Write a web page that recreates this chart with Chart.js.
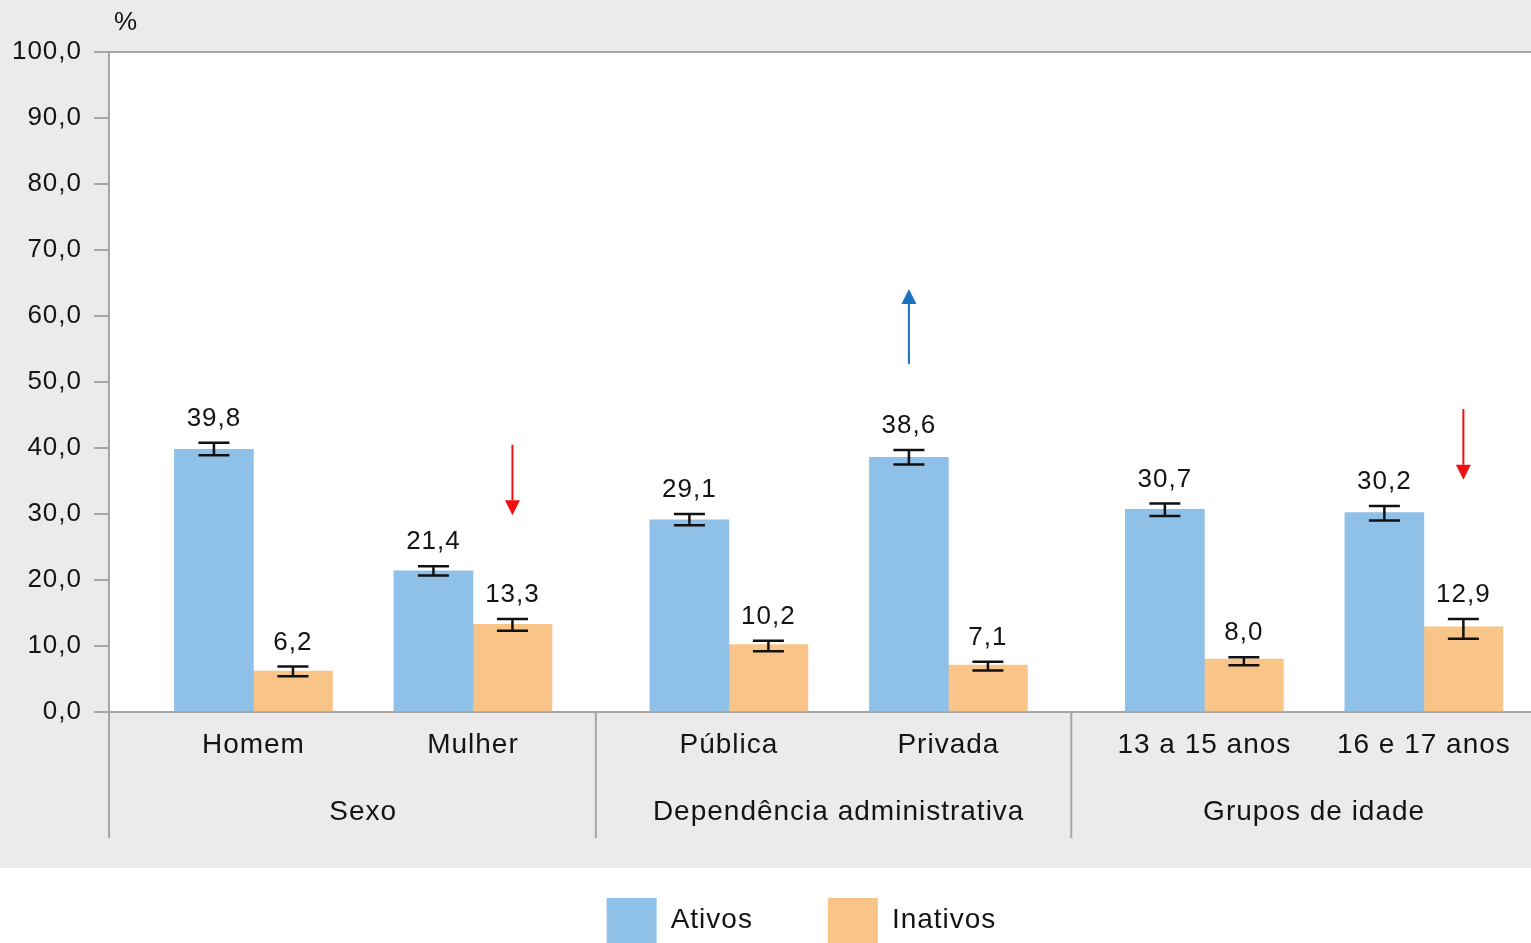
<!DOCTYPE html>
<html>
<head>
<meta charset="utf-8">
<script src="https://cdn.jsdelivr.net/npm/chart.js@4.4.1/dist/chart.umd.min.js"></script>
<style>
html,body{margin:0;padding:0;background:#ffffff;}
#wrap{width:1531px;height:943px;position:relative;}
</style>
</head>
<body>
<div id="wrap"><canvas id="c"></canvas></div>
<script>
// ---------- data ----------
const categories = ['Homem', 'Mulher', 'Pública', 'Privada', '13 a 15 anos', '16 e 17 anos'];
const categoryGroup = [0, 0, 1, 1, 2, 2];
const groups = ['Sexo', 'Dependência administrativa', 'Grupos de idade'];
const seriesNames = ['Ativos', 'Inativos'];
const ativos = [39.8, 21.4, 29.1, 38.6, 30.7, 30.2];
const inativos = [6.2, 13.3, 10.2, 7.1, 8.0, 12.9];
const ativosLow = [38.9, 20.7, 28.3, 37.5, 29.7, 29.0];
const ativosHigh = [40.8, 22.1, 30.0, 39.7, 31.6, 31.2];
const inativosLow = [5.4, 12.3, 9.2, 6.3, 7.1, 11.1];
const inativosHigh = [6.9, 14.1, 10.8, 7.6, 8.3, 14.1];
const yTickValues = [0, 10, 20, 30, 40, 50, 60, 70, 80, 90, 100];
const unitLabel = '%';
// significance arrows: category index, series index, from value, to value
const arrowCategory = [1, 3, 5];
const arrowSeries = [1, 0, 1];
const arrowFrom = [40.5, 52.7, 45.9];
const arrowTo = [29.8, 64.1, 35.2];

// ---------- style / layout ----------
const FONT = "'Liberation Sans', Arial, sans-serif";
const TEXT = '#141414';
const AXIS = '#a6a6a6';
const BLUE = '#8fc0e7';
const ORANGE = '#f9c487';
const GROUP_GAP = 0.166;
const X_MIN = -0.658, X_MAX = 5.82;
const SPACING = '1px';
const NUM_SIZE = 26, WORD_SIZE = 28;

const positions = categories.map((c, i) => i + categoryGroup[i] * GROUP_GAP);
const fmt = v => v.toFixed(1).replace('.', ',');
const lows = [ativosLow, inativosLow];
const highs = [ativosHigh, inativosHigh];
const values = [ativos, inativos];

function setSpacing(chart) { try { chart.ctx.letterSpacing = SPACING; } catch (e) {} }

const decor = {
  id: 'decor',
  beforeInit: setSpacing,
  beforeUpdate: setSpacing,
  beforeLayout: setSpacing,
  afterLayout(chart) {
    const lg = chart.legend;
    if (lg) { lg.left += 36; lg.right += 36; }
  },
  beforeDraw(chart) {
    setSpacing(chart);
    const { ctx, chartArea: a, width, height } = chart;
    ctx.save();
    ctx.fillStyle = '#ebebeb';
    ctx.fillRect(0, 0, width, a.bottom + 156);
    ctx.fillStyle = '#ffffff';
    ctx.fillRect(0, a.bottom + 156, width, height - a.bottom - 156);
    ctx.fillRect(a.left, a.top, a.right - a.left, a.bottom - a.top);
    ctx.restore();
  },
  afterDatasetsDraw(chart) {
    const { ctx } = chart;
    const ys = chart.scales.y;
    ctx.save();
    for (let d = 0; d < 2; d++) {
      const meta = chart.getDatasetMeta(d);
      meta.data.forEach((el, i) => {
        const x = el.x;
        const yh = ys.getPixelForValue(highs[d][i]);
        const yl = ys.getPixelForValue(lows[d][i]);
        ctx.strokeStyle = '#111111';
        ctx.lineWidth = 2.5;
        ctx.beginPath();
        ctx.moveTo(x, yh); ctx.lineTo(x, yl);
        ctx.moveTo(x - 15.5, yh); ctx.lineTo(x + 15.5, yh);
        ctx.moveTo(x - 15.5, yl); ctx.lineTo(x + 15.5, yl);
        ctx.stroke();
        ctx.fillStyle = TEXT;
        ctx.font = NUM_SIZE + 'px ' + FONT;
        ctx.textAlign = 'center';
        ctx.textBaseline = 'middle';
        ctx.fillText(fmt(values[d][i]), x, yh - 24);
      });
    }
    arrowCategory.forEach((c, k) => {
      const el = chart.getDatasetMeta(arrowSeries[k]).data[c];
      const x = el.x;
      const y1 = ys.getPixelForValue(arrowFrom[k]);
      const y2 = ys.getPixelForValue(arrowTo[k]);
      const down = y2 > y1;
      const col = down ? '#ee1111' : '#1b72c2';
      const head = 15, hw = 7.5;
      const base = down ? y2 - head : y2 + head;
      ctx.strokeStyle = col;
      ctx.fillStyle = col;
      ctx.lineWidth = 2;
      ctx.beginPath();
      ctx.moveTo(x, y1); ctx.lineTo(x, base);
      ctx.stroke();
      ctx.beginPath();
      ctx.moveTo(x - hw, base); ctx.lineTo(x + hw, base); ctx.lineTo(x, y2);
      ctx.closePath();
      ctx.fill();
    });
    ctx.restore();
  },
  afterDraw(chart) {
    const { ctx, chartArea: a } = chart;
    const xs = chart.scales.x;
    ctx.save();
    setSpacing(chart);
    ctx.strokeStyle = AXIS;
    ctx.lineWidth = 2;
    const divs = [a.left];
    for (let i = 1; i < categories.length; i++) {
      if (categoryGroup[i] !== categoryGroup[i - 1]) {
        divs.push(xs.getPixelForValue(positions[i - 1] + 0.48 * (positions[i] - positions[i - 1])));
      }
    }
    ctx.beginPath();
    divs.forEach(x => { ctx.moveTo(x, a.bottom); ctx.lineTo(x, a.bottom + 126); });
    ctx.stroke();
    ctx.fillStyle = TEXT;
    ctx.font = WORD_SIZE + 'px ' + FONT;
    ctx.textAlign = 'center';
    ctx.textBaseline = 'middle';
    groups.forEach((g, gi) => {
      const idx = categoryGroup.map((cg, i) => cg === gi ? i : -1).filter(i => i >= 0);
      const p = idx.reduce((s, i) => s + positions[i], 0) / idx.length;
      ctx.fillText(g, xs.getPixelForValue(p), a.bottom + 100);
    });
    ctx.font = NUM_SIZE + 'px ' + FONT;
    ctx.fillText(unitLabel, a.left + 17, a.top - 29);
    ctx.restore();
  }
};

const chart = new Chart(document.getElementById('c'), {
  type: 'bar',
  data: {
    datasets: [
      { label: seriesNames[0], data: ativos.map((v, i) => ({ x: positions[i], y: v })), backgroundColor: BLUE, borderWidth: 0, barThickness: 79 },
      { label: seriesNames[1], data: inativos.map((v, i) => ({ x: positions[i], y: v })), backgroundColor: ORANGE, borderWidth: 0, barThickness: 79 }
    ]
  },
  options: {
    responsive: true,
    maintainAspectRatio: false,
    animation: false,
    layout: { padding: { top: 52, left: 0, right: 0, bottom: 0 } },
    scales: {
      x: {
        type: 'linear',
        offset: false,
        min: X_MIN,
        max: X_MAX,
        afterBuildTicks: ax => { ax.ticks = positions.map(v => ({ value: v })); },
        afterFit: ax => { ax.height = 111; },
        grid: { display: false, drawTicks: false, offset: false },
        border: { display: true, color: AXIS, width: 2 },
        ticks: {
          autoSkip: false, maxRotation: 0, minRotation: 0, padding: 16,
          color: TEXT, font: { family: FONT, size: WORD_SIZE },
          callback: (v, i) => categories[i]
        }
      },
      y: {
        min: 0,
        max: 100,
        afterBuildTicks: ax => { ax.ticks = yTickValues.map(v => ({ value: v })); },
        afterFit: ax => { ax.width = 109; },
        grid: {
          drawOnChartArea: true,
          color: c => (c.tick && c.tick.value === 100) ? AXIS : 'rgba(0,0,0,0)',
          tickColor: AXIS,
          lineWidth: 2,
          drawTicks: true,
          tickLength: 15
        },
        border: { display: true, color: AXIS, width: 2 },
        ticks: { padding: 12, color: TEXT, font: { family: FONT, size: NUM_SIZE }, callback: v => fmt(v) }
      }
    },
    plugins: {
      legend: {
        position: 'bottom',
        maxHeight: 120,
        labels: { boxWidth: 50, boxHeight: 45, padding: 75, color: TEXT, font: { family: FONT, size: WORD_SIZE } }
      },
      tooltip: { enabled: false }
    }
  },
  plugins: [decor]
});
</script>
</body>
</html>
